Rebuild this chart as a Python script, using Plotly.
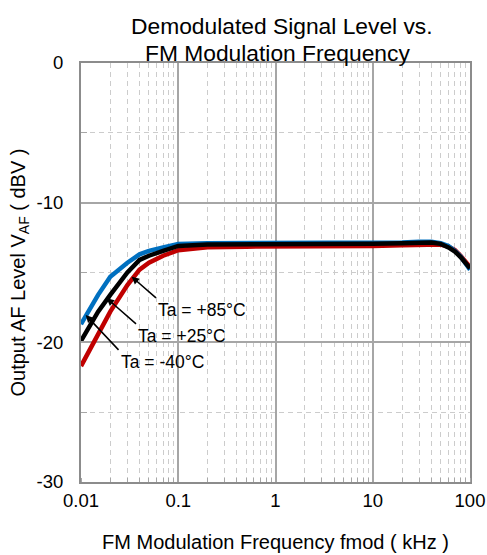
import plotly.graph_objects as go

# ---- data ----
freq_khz = [0.01, 0.015, 0.02, 0.03, 0.04, 0.05, 0.07, 0.1, 0.2, 0.5, 1, 2, 5, 10,
            20, 30, 40, 50, 60, 70, 80, 100]
level_p85 = [-18.7, -16.6, -15.3, -14.3, -13.7, -13.45, -13.2, -12.95, -12.9, -12.9,
             -12.9, -12.9, -12.9, -12.9, -12.85, -12.8, -12.8, -12.9, -13.1, -13.45,
             -13.85, -14.8]
level_p25 = [-19.9, -17.8, -16.6, -15.0, -14.1, -13.8, -13.45, -13.1, -13.0, -13.0,
             -13.0, -13.0, -13.0, -12.95, -12.9, -12.85, -12.85, -12.95, -13.2, -13.5,
             -13.9, -14.7]
level_m40 = [-21.7, -19.5, -17.8, -15.9, -14.8, -14.3, -13.8, -13.4, -13.2, -13.15,
             -13.15, -13.15, -13.1, -13.1, -13.05, -13.0, -12.95, -13.0, -13.15, -13.4,
             -13.8, -14.6]

series_names = ["Ta = -40°C", "Ta = +85°C", "Ta = +25°C"]
series_values = [level_m40, level_p85, level_p25]
series_colors = ["#C00000", "#0070C0", "#000000"]

x_tick_vals = [0.01, 0.1, 1, 10, 100]
x_tick_text = ["0.01", "0.1", "1", "10", "100"]
y_tick_vals = [-30, -20, -10, 0]
y_tick_text = ["-30", "-20", "-10", "0"]

title_lines = ["Demodulated Signal Level vs.", "FM Modulation Frequency"]

# labels: (text, arrow head (log10 f, dB), text box top-left (log10 f, dB))
labels = [
    ("Ta = +85°C", (-1.479, -15.30), (-1.229, -16.82)),
    ("Ta = +25°C", (-1.736, -16.84), (-1.434, -18.68)),
    ("Ta = -40°C", (-1.952, -18.04), (-1.614, -20.54)),
]

FONT = "Arial, Liberation Sans, sans-serif"

fig = go.Figure()
for name, vals, col in zip(series_names, series_values, series_colors):
    fig.add_trace(go.Scatter(x=freq_khz, y=vals, mode="lines", name=name,
                             line=dict(color=col, width=4.5), showlegend=False))

for text, head, box in labels:
    fig.add_annotation(x=head[0], y=head[1], ax=box[0], ay=box[1],
                       xref="x", yref="y", axref="x", ayref="y",
                       text=text, xanchor="left", yanchor="top",
                       showarrow=True, arrowhead=2, arrowsize=1, arrowwidth=1.5,
                       arrowcolor="black",
                       font=dict(family=FONT, size=17.5, color="black"))

# two title lines (placed separately to match line spacing)
for line, xp, yp in zip(title_lines, [0.516, 0.506], [1.0883, 1.0250]):
    fig.add_annotation(text=line, x=xp, y=yp, xref="paper", yref="paper",
                       xanchor="center", yanchor="middle", showarrow=False,
                       font=dict(family=FONT, size=22.8, color="black"))

fig.update_layout(
    width=487, height=555,
    margin=dict(l=81, r=17, t=63, b=73, autoexpand=False),
    paper_bgcolor="white", plot_bgcolor="white",
    font=dict(family=FONT, color="black"),
)

fig.update_xaxes(
    type="log", range=[-2, 2], automargin=False,
    tickvals=x_tick_vals, ticktext=x_tick_text,
    tickfont=dict(family=FONT, size=18.5, color="black"),
    ticklabelstandoff=1,
    showgrid=True, gridcolor="#a6a6a6", gridwidth=1.8,
    ticks="", showline=True, linecolor="#8c8c8c", linewidth=2, mirror=True,
    minor=dict(dtick="D1", showgrid=True, gridcolor="#cccccc", gridwidth=1.3,
               griddash="5px,4px", ticks="inside", ticklen=4, tickcolor="#a6a6a6",
               tickwidth=1.3),
    zeroline=False,
    title=dict(text="FM Modulation Frequency fmod ( kHz )",
               font=dict(family=FONT, size=20, color="black"), standoff=25),
)
fig.update_yaxes(
    range=[-30, 0], tickvals=y_tick_vals, ticktext=y_tick_text, automargin=False,
    tickfont=dict(family=FONT, size=18.5, color="black"),
    showgrid=True, gridcolor="#a6a6a6", gridwidth=1.8,
    ticks="inside", ticklen=6, tickcolor="#a6a6a6", tickwidth=1.5,
    ticklabelstandoff=12,
    showline=True, linecolor="#8c8c8c", linewidth=2, mirror=True,
    minor=dict(dtick=5, showgrid=True, gridcolor="#cccccc", gridwidth=1.3,
               griddash="5px,4px", ticks="inside", ticklen=6, tickcolor="#a6a6a6",
               tickwidth=1.3),
    zeroline=False,
    title=dict(text="Output AF Level V<sub>AF</sub> ( dBV )",
               font=dict(family=FONT, size=20, color="black"), standoff=6),
)

fig.write_html("out.html")
